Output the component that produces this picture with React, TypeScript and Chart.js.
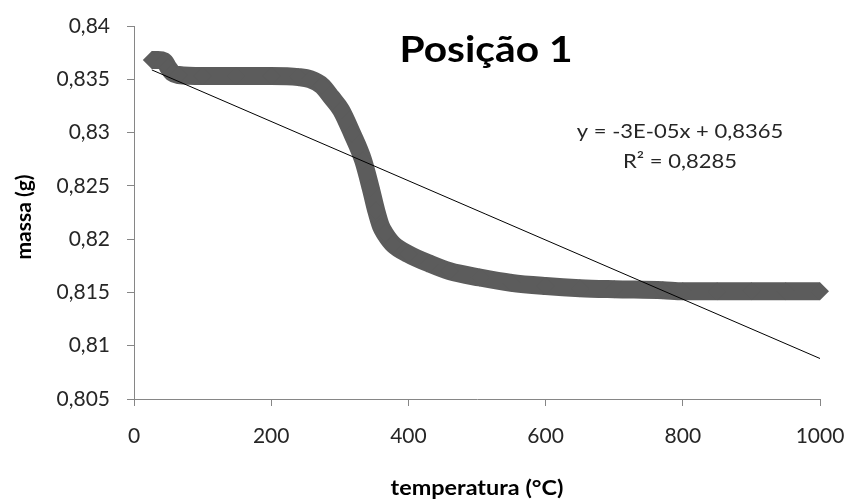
import { useEffect, useRef } from "react";
import { Chart, registerables } from "chart.js";

Chart.register(...registerables);

// temperature (°C) and mass (g)
const tempC = [26, 35, 44, 50, 56, 65, 100, 150, 200, 240, 257, 274, 288, 302, 318, 334, 345, 353, 360, 366, 378, 400, 431, 460, 504, 550, 600, 650, 700, 771, 800, 850, 900, 950, 1000];
const massG = [0.8368, 0.8368, 0.8367, 0.8361, 0.8356, 0.8354, 0.8353, 0.8353, 0.8353, 0.8352, 0.8350, 0.8344, 0.8333, 0.8321, 0.8299, 0.8274, 0.8248, 0.8227, 0.8212, 0.8205, 0.8195, 0.8186, 0.8177, 0.8170, 0.8164, 0.8159, 0.8156, 0.8154, 0.8153, 0.8152, 0.8151, 0.8151, 0.8151, 0.8151, 0.8151];

// linear trendline
const trendSlope = -2.78e-5;
const trendIntercept = 0.8366;
const trendX = [26, 1000];

const xTicks = [0, 200, 400, 600, 800, 1000];
const yTicks = [0.805, 0.81, 0.815, 0.82, 0.825, 0.83, 0.835, 0.84];

const chartTitle = "Posição 1";
const xTitle = "temperatura (°C)";
const yTitle = "massa (g)";
const eqLine1 = "y = -3E-05x + 0,8365";
const eqLine2 = "R² = 0,8285";

const FONT = "Lato, 'Open Sans', sans-serif";
const TEXT = "#262626";
const AXIS = "#868686";
const BAND = "#5c5c5c";

const fmtY = (v: number) => String(Number(v.toFixed(3))).replace(".", ",");

function stretchedText(ctx: any, text: string, x: number, y: number, sx: number) {
  ctx.save();
  ctx.translate(x, y);
  ctx.scale(sx, 1);
  ctx.fillText(text, 0, 0);
  ctx.restore();
}

const textPlugin = {
  id: "texts",
  afterDraw(chart: any) {
    const ctx = chart.ctx;
    ctx.save();
    ctx.fillStyle = "#000";
    ctx.textAlign = "center";
    ctx.textBaseline = "alphabetic";
    ctx.font = `bold 37px ${FONT}`;
    stretchedText(ctx, chartTitle, 486, 62, 1.1);

    ctx.fillStyle = TEXT;
    ctx.font = `20px ${FONT}`;
    stretchedText(ctx, eqLine1, 680, 138, 1.1);
    stretchedText(ctx, eqLine2, 680, 168, 1.1);

    ctx.fillStyle = "#000";
    ctx.font = `bold 20px ${FONT}`;
    ctx.textBaseline = "middle";
    stretchedText(ctx, xTitle, 477, 489, 1.17);
    ctx.font = `bold 21px ${FONT}`;
    ctx.translate(24, 217);
    ctx.rotate(-Math.PI / 2);
    ctx.fillText(yTitle, 0, 0);
    ctx.restore();
  },
};

export default function App() {
  const ref = useRef<HTMLCanvasElement>(null);
  useEffect(() => {
    if (!ref.current) return;
    const curve = tempC.map((x, i) => ({ x, y: massG[i] }));
    const trend = trendX.map((x) => ({ x, y: trendSlope * x + trendIntercept }));
    const chart = new Chart(ref.current, {
      type: "scatter",
      data: {
        datasets: [
          {
            data: trend,
            showLine: true,
            borderColor: "#000",
            borderWidth: 1,
            pointRadius: 0,
            clip: false,
          },
          {
            data: curve,
            showLine: true,
            borderColor: BAND,
            borderWidth: 18,
            borderJoinStyle: "round",
            cubicInterpolationMode: "monotone",
            pointStyle: "rectRot",
            pointRadius: 9,
            pointBackgroundColor: BAND,
            pointBorderColor: BAND,
            pointBorderWidth: 0,
            clip: false,
          },
        ],
      },
      options: {
        animation: false,
        responsive: false,
        devicePixelRatio: 1,
        layout: { padding: { left: 0, top: 26, right: 30, bottom: 0 } },
        plugins: { legend: { display: false }, tooltip: { enabled: false }, title: { display: false } },
        scales: {
          x: {
            type: "linear",
            min: 0,
            max: 1000,
            afterBuildTicks: (s: any) => {
              s.ticks = xTicks.map((v) => ({ value: v }));
            },
            afterFit: (s: any) => {
              s.height = 100;
              s.paddingLeft = 0;
              s.paddingRight = 0;
            },
            ticks: {
              color: TEXT,
              font: { family: FONT, size: 21 },
              padding: 18,
              maxRotation: 0,
              callback: (v: any) => String(v),
            },
            grid: { drawOnChartArea: false, drawTicks: true, tickLength: 7, color: AXIS },
            border: { color: AXIS, width: 1 },
          },
          y: {
            type: "linear",
            min: 0.805,
            max: 0.84,
            afterBuildTicks: (s: any) => {
              s.ticks = yTicks.map((v) => ({ value: v }));
            },
            afterFit: (s: any) => {
              s.width = 134;
              s.paddingTop = 0;
              s.paddingBottom = 0;
            },
            ticks: {
              color: TEXT,
              font: { family: FONT, size: 21 },
              padding: 17,
              callback: (v: any) => fmtY(Number(v)),
            },
            grid: { drawOnChartArea: false, drawTicks: true, tickLength: 7, color: AXIS },
            border: { color: AXIS, width: 1 },
          },
        },
      },
      plugins: [textPlugin],
    } as any);
    return () => chart.destroy();
  }, []);
  return (
    <div style={{ position: "absolute", left: 0, top: 0, width: 850, height: 499, background: "#fff" }}>
      <canvas ref={ref} width={850} height={499} />
    </div>
  );
}
